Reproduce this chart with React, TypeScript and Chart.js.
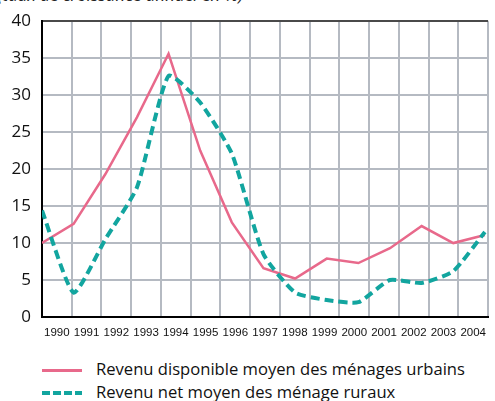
import React, { useEffect, useRef } from "react";
import { Chart, registerables } from "chart.js";

Chart.register(...registerables);

const years = ["1990","1991","1992","1993","1994","1995","1996","1997","1998","1999","2000","2001","2002","2003","2004"];
const urbanIncome = [10, 12.6, 19.3, 27, 35.6, 22.5, 12.8, 6.6, 5.2, 7.9, 7.3, 9.3, 12.3, 10, 11.1];
const ruralIncome = [14.4, 3.3, 10.5, 17.5, 32.6, 29, 22.1, 8.5, 3.3, 2.3, 2.0, 5.0, 4.6, 6.2, 11.5];
const yTicks = [0, 5, 10, 15, 20, 25, 30, 35, 40];
const titleText = "(taux de croissance annuel en %)";
const urbanLabel = "Revenu disponible moyen des ménages urbains";
const ruralLabel = "Revenu net moyen des ménage ruraux";

const PINK = "#E8698B";
const TEAL = "#12A59F";
const GRID = "#B5BAC2";

export default function App() {
  const ref = useRef<HTMLCanvasElement | null>(null);
  useEffect(() => {
    if (!ref.current) return;
    const firstYear = Number(years[0]);
    const chart = new Chart(ref.current, {
      type: "line",
      data: {
        labels: years,
        datasets: [
          {
            label: urbanLabel,
            data: urbanIncome.map((v, i) => ({ x: firstYear + i, y: v })),
            borderColor: PINK,
            borderWidth: 2.5,
            pointRadius: 0,
            tension: 0,
            xAxisID: "xd",
            order: 1,
          },
          {
            label: ruralLabel,
            data: ruralIncome.map((v, i) => ({ x: firstYear + i, y: v })),
            borderColor: TEAL,
            borderWidth: 4,
            borderDash: [9, 5],
            pointRadius: 0,
            tension: 0.18,
            xAxisID: "xd",
            order: 0,
          },
        ],
      },
      options: {
        animation: false,
        responsive: false,
        maintainAspectRatio: false,
        layout: { padding: { top: 15, left: 0, right: 0, bottom: 0 } },
        plugins: { legend: { display: false }, tooltip: { enabled: false }, title: { display: false } },
        scales: {
          x: {
            type: "category",
            offset: true,
            grid: {
              offset: true,
              drawTicks: false,
              color: (ctx: any) => (ctx.index === 0 ? "#000" : GRID),
              lineWidth: 2,
            },
            border: { display: true, color: "#000", width: 2 },
            ticks: {
              color: "#111",
              padding: 9,
              maxRotation: 0,
              autoSkip: false,
              font: { family: "'Liberation Sans', sans-serif", size: 11.5 },
            },
            afterFit: (s: any) => { s.height = 28; },
          },
          xd: {
            type: "linear",
            display: false,
            min: firstYear,
            max: firstYear + 14.1,
          },
          y: {
            min: yTicks[0],
            max: yTicks[yTicks.length - 1],
            afterBuildTicks: (s: any) => { s.ticks = yTicks.map((v) => ({ value: v })); },
            grid: {
              drawTicks: false,
              color: (ctx: any) => (ctx.tick && ctx.tick.value === 40 ? "#4a4a4a" : GRID),
              lineWidth: 2,
            },
            border: { display: true, color: "#000", width: 2 },
            ticks: {
              color: "#111",
              padding: 11,
              font: { family: "'Open Sans', sans-serif", size: 17 },
            },
            afterFit: (s: any) => { s.width = 42; },
          },
        },
      },
    } as any);
    return () => chart.destroy();
  }, []);

  const legendFont = "'Open Sans', sans-serif";
  return (
    <div style={{ position: "absolute", left: 0, top: 0, width: 495, height: 401, overflow: "hidden", background: "#fff" }}>
      <div style={{ position: "absolute", left: 0, top: 0, width: 495, height: 9, overflow: "hidden" }}>
        <div style={{ position: "absolute", right: 252, top: -14, whiteSpace: "nowrap", fontFamily: legendFont, fontStyle: "italic", fontSize: 17, lineHeight: "18px", color: "#222" }}>
          {titleText}
        </div>
      </div>
      <canvas ref={ref} width={495} height={345} style={{ position: "absolute", left: 0, top: 0, width: 495, height: 345 }} />
      <div style={{ position: "absolute", left: 42, top: 369, width: 40, height: 3, background: PINK }} />
      <div style={{ position: "absolute", left: 96, top: 358, whiteSpace: "nowrap", fontFamily: legendFont, fontSize: 16.6, lineHeight: "22px", color: "#111" }}>
        {urbanLabel}
      </div>
      <div style={{ position: "absolute", left: 42, top: 391, width: 40, height: 4, background: `repeating-linear-gradient(90deg, ${TEAL} 0px, ${TEAL} 8px, transparent 8px, transparent 11px)` }} />
      <div style={{ position: "absolute", left: 96, top: 381, whiteSpace: "nowrap", fontFamily: legendFont, fontSize: 16.6, lineHeight: "22px", color: "#111" }}>
        {ruralLabel}
      </div>
    </div>
  );
}
